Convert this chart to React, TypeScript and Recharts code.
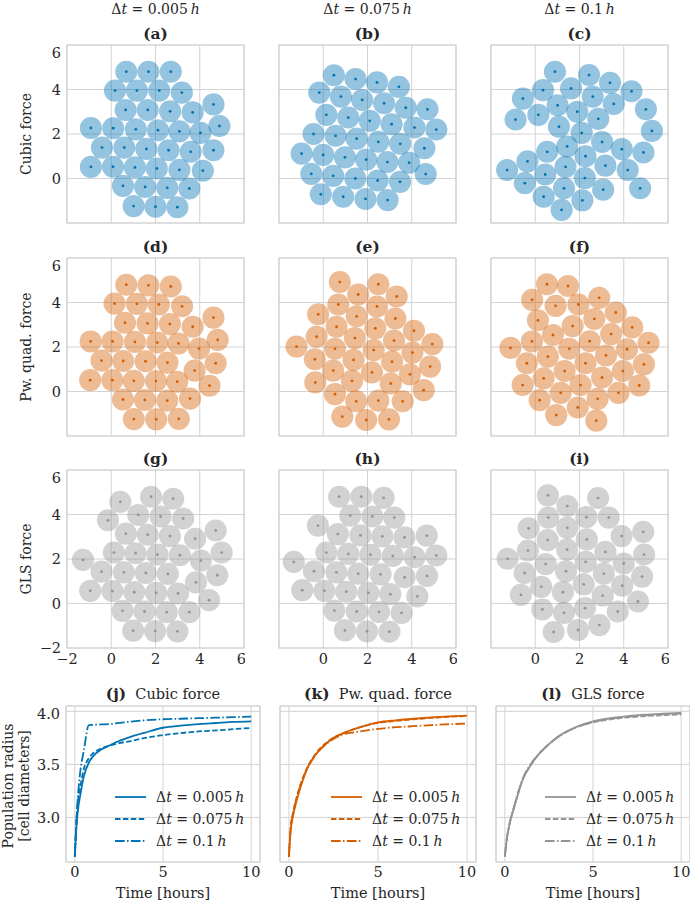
import React from "react";
import {
  ScatterChart,
  Scatter,
  LineChart,
  Line,
  XAxis,
  YAxis,
  CartesianGrid,
  ReferenceArea,
} from "recharts";

// ---- cell centres, [x, y] in cell diameters ----
const cubicDt005 = [
  [0.68, 4.8], [1.68, 4.8], [2.69, 4.8],
  [0.17, 3.95], [1.16, 3.95], [2.17, 3.95], [3.19, 3.86],
  [0.65, 3.08], [1.65, 3.08], [2.66, 3.02], [3.68, 2.97], [4.62, 3.33],
  [-0.92, 2.27], [0.09, 2.26], [1.11, 2.21], [2.11, 2.17], [3.08, 2.12], [4.03, 2.05], [4.89, 2.36],
  [-0.42, 1.39], [0.59, 1.39], [1.59, 1.33], [2.59, 1.27], [3.59, 1.2], [4.62, 1.27],
  [-0.92, 0.52], [0.08, 0.53], [1.07, 0.5], [2.06, 0.45], [3.08, 0.39], [4.14, 0.35],
  [0.53, -0.33], [1.53, -0.38], [2.53, -0.42], [3.53, -0.45],
  [1.01, -1.24], [2.0, -1.27], [2.99, -1.29],
];
const cubicDt075 = [
  [0.48, 4.64], [1.46, 4.47], [2.43, 4.32], [3.42, 4.12],
  [-0.18, 3.86], [0.8, 3.68], [1.76, 3.53], [2.75, 3.38], [3.73, 3.18], [4.71, 3.11],
  [0.14, 2.86], [1.13, 2.74], [2.1, 2.59], [3.09, 2.44], [4.12, 2.29], [5.11, 2.2],
  [-0.44, 2.0], [0.56, 1.92], [1.51, 1.79], [2.49, 1.65], [3.48, 1.56], [4.57, 1.36],
  [-0.98, 1.12], [0.0, 1.06], [0.98, 0.95], [1.94, 0.85], [2.9, 0.74], [3.88, 0.71],
  [-0.54, 0.21], [0.45, 0.12], [1.45, 0.0], [2.46, -0.09], [3.47, -0.15], [4.63, 0.2],
  [-0.11, -0.71], [0.9, -0.82], [1.91, -0.92], [2.91, -0.97],
];
const cubicDt1 = [
  [0.89, 4.8], [2.43, 4.65], [3.38, 4.3], [4.35, 3.92], [0.35, 3.97], [1.62, 4.05],
  [-0.56, 3.59], [1.01, 3.29], [2.6, 3.68], [3.55, 3.35], [5.0, 3.11],
  [-0.89, 2.65], [0.14, 2.86], [1.9, 3.0], [2.85, 2.68], [1.07, 2.33], [2.1, 2.05], [5.27, 2.14],
  [1.44, 1.44], [3.02, 1.64], [3.91, 1.32], [4.89, 1.17], [0.54, 1.2], [2.27, 1.0],
  [-0.35, 0.77], [1.37, 0.52], [3.17, 0.58], [4.18, 0.38], [-1.27, 0.38], [0.45, 0.18],
  [-0.47, -0.21], [1.3, -0.44], [2.24, 0.02], [3.07, -0.5], [4.74, -0.44],
  [0.38, -0.82], [2.13, -0.98], [1.19, -1.41],
];
const pwDt005 = [
  [0.68, 4.8], [1.68, 4.77], [2.69, 4.72],
  [0.15, 3.95], [1.16, 3.94], [2.15, 3.91], [3.2, 3.83], [4.62, 3.32],
  [0.62, 3.09], [1.64, 3.06], [2.65, 3.03], [3.68, 2.91], [4.81, 2.32],
  [-0.93, 2.25], [0.06, 2.25], [1.07, 2.23], [2.08, 2.2], [3.04, 2.16], [3.97, 1.93],
  [-0.44, 1.39], [0.54, 1.37], [1.55, 1.36], [2.54, 1.3], [3.77, 0.94], [4.72, 1.27],
  [-0.95, 0.51], [0.05, 0.51], [1.02, 0.48], [2.02, 0.47], [2.98, 0.44], [4.44, 0.26],
  [0.53, -0.36], [1.52, -0.38], [2.53, -0.41], [3.56, -0.32],
  [1.02, -1.24], [2.03, -1.25], [3.05, -1.23],
];
const pwDt075 = [
  [0.75, 4.92], [2.49, 4.82], [1.58, 4.36], [3.32, 4.27], [0.68, 3.91], [2.43, 3.82],
  [-0.23, 3.47], [1.51, 3.38], [3.26, 3.28], [0.6, 2.91], [2.35, 2.84], [4.1, 2.73],
  [-0.3, 2.46], [1.43, 2.4], [3.2, 2.29], [4.93, 2.13], [-1.21, 2.02], [0.53, 1.92],
  [2.28, 1.86], [4.03, 1.75], [-0.38, 1.45], [1.37, 1.42], [3.11, 1.34], [4.83, 1.12],
  [0.45, 0.94], [2.2, 0.86], [3.92, 0.77], [-0.36, 0.41], [1.3, 0.48], [3.05, 0.36],
  [4.54, 0.06], [0.53, -0.12], [1.49, -0.44], [2.49, -0.41], [3.59, -0.44],
  [0.86, -1.13], [1.94, -1.28], [2.97, -1.25],
];
const pwDt1 = [
  [0.53, 4.82], [1.48, 4.74], [-0.14, 4.12], [0.92, 3.85], [1.95, 3.91], [2.89, 4.21],
  [3.64, 3.55], [0.12, 3.2], [1.69, 2.94], [2.67, 3.26], [4.38, 2.88], [0.8, 2.54],
  [2.46, 2.26], [3.43, 2.58], [5.12, 2.19], [-1.12, 1.96], [-0.15, 2.25], [1.54, 1.92],
  [0.57, 1.57], [3.2, 1.62], [4.15, 1.9], [2.27, 1.27], [-0.38, 1.27], [1.33, 0.92],
  [3.96, 0.92], [4.91, 1.22], [0.38, 0.59], [3.02, 0.63], [-0.57, 0.29], [2.05, 0.29],
  [1.15, -0.06], [3.76, -0.06], [4.7, 0.27], [0.2, -0.39], [2.82, -0.33],
  [0.95, -1.06], [1.92, -0.72], [2.76, -1.31],
];
const glsDt005 = [
  [1.8, 4.8], [2.8, 4.71], [0.41, 4.57], [-0.15, 3.74], [1.22, 3.98], [2.23, 3.91],
  [3.25, 3.82], [4.72, 3.28], [0.66, 3.14], [1.65, 3.09], [2.65, 3.03], [3.79, 2.91],
  [4.99, 2.29], [-1.28, 1.96], [0.12, 2.29], [1.1, 2.26], [2.09, 2.2], [3.1, 2.17],
  [4.05, 1.93], [-0.44, 1.43], [0.57, 1.4], [1.56, 1.37], [2.56, 1.33], [3.83, 0.95],
  [4.79, 1.27], [-0.95, 0.57], [0.05, 0.56], [1.04, 0.51], [2.03, 0.48], [3.02, 0.45],
  [4.42, 0.15], [0.51, -0.33], [1.5, -0.36], [2.51, -0.39], [3.53, -0.39],
  [0.99, -1.22], [1.98, -1.24], [2.99, -1.25],
];
const glsDt075 = [
  [0.72, 4.8], [1.72, 4.8], [2.73, 4.75], [1.22, 3.95], [2.22, 3.91], [3.21, 3.86],
  [-0.24, 3.5], [0.66, 3.12], [1.68, 3.06], [2.67, 3.02], [3.67, 2.97], [4.68, 3.05],
  [0.14, 2.29], [1.13, 2.23], [2.13, 2.19], [3.14, 2.14], [4.13, 2.08], [5.11, 2.16],
  [-1.33, 1.87], [-0.42, 1.45], [0.59, 1.4], [1.58, 1.34], [2.59, 1.31], [3.68, 1.18],
  [4.69, 1.24], [-0.95, 0.6], [0.05, 0.57], [1.04, 0.53], [2.04, 0.48], [3.03, 0.42],
  [4.25, 0.32], [0.5, -0.32], [1.51, -0.36], [2.52, -0.38], [3.54, -0.42],
  [0.98, -1.21], [1.98, -1.25], [2.99, -1.27],
];
const glsDt1 = [
  [0.57, 4.86], [2.84, 4.74], [1.45, 4.38], [0.59, 3.86], [2.31, 3.88], [3.32, 3.86],
  [-0.3, 3.38], [1.45, 3.4], [0.56, 2.85], [2.33, 2.88], [3.9, 3.03], [4.88, 3.22],
  [-0.33, 2.38], [1.44, 2.42], [3.17, 2.32], [4.92, 2.2], [-1.25, 2.01], [0.47, 1.77],
  [2.28, 1.87], [4.0, 1.8], [-0.48, 1.37], [1.39, 1.45], [3.1, 1.34], [4.83, 1.21],
  [0.27, 0.75], [2.19, 0.86], [3.93, 0.8], [-0.65, 0.39], [1.25, 0.51], [3.05, 0.35],
  [4.64, 0.09], [0.32, -0.27], [1.3, -0.42], [2.25, -0.21], [3.73, -0.36],
  [0.83, -1.28], [1.93, -1.19], [2.9, -0.97],
];

// ---- population radius over time ----
const time = [0, 0.1, 0.2, 0.3, 0.5, 0.8, 1, 1.5, 2, 2.5, 3, 4, 5, 6, 7, 8, 9, 10];
const cubicR005 = [2.63, 2.93, 3.1, 3.2, 3.38, 3.52, 3.57, 3.64, 3.68, 3.72, 3.75, 3.8, 3.845, 3.865, 3.88, 3.89, 3.9, 3.905];
const cubicR075 = [2.63, 3.0, 3.18, 3.28, 3.45, 3.56, 3.6, 3.65, 3.68, 3.7, 3.715, 3.75, 3.775, 3.795, 3.81, 3.82, 3.832, 3.843];
const cubicR1 = [2.63, 3.0, 3.25, 3.42, 3.62, 3.87, 3.872, 3.876, 3.88, 3.89, 3.9, 3.915, 3.925, 3.93, 3.935, 3.94, 3.945, 3.95];
const pwR005 = [2.63, 2.88, 2.99, 3.07, 3.2, 3.36, 3.45, 3.59, 3.68, 3.75, 3.79, 3.85, 3.895, 3.915, 3.93, 3.942, 3.952, 3.96];
const pwR075 = [2.63, 2.91, 3.02, 3.1, 3.23, 3.38, 3.46, 3.6, 3.69, 3.75, 3.79, 3.85, 3.89, 3.91, 3.925, 3.938, 3.948, 3.955];
const pwR1 = [2.63, 2.9, 3.01, 3.09, 3.22, 3.37, 3.45, 3.59, 3.68, 3.74, 3.78, 3.81, 3.835, 3.85, 3.86, 3.87, 3.878, 3.885];
const glsR005 = [2.63, 2.78, 2.88, 2.96, 3.08, 3.25, 3.35, 3.5, 3.61, 3.69, 3.76, 3.85, 3.905, 3.935, 3.955, 3.968, 3.977, 3.985];
const glsR075 = [2.63, 2.78, 2.88, 2.96, 3.08, 3.25, 3.35, 3.5, 3.61, 3.69, 3.755, 3.845, 3.895, 3.925, 3.943, 3.955, 3.963, 3.97];
const glsR1 = [2.63, 2.79, 2.89, 2.97, 3.09, 3.26, 3.36, 3.51, 3.61, 3.69, 3.755, 3.845, 3.9, 3.93, 3.95, 3.962, 3.971, 3.978];

const dtLabels = ["0.005", "0.075", "0.1"];
const forceNames = ["Cubic force", "Pw. quad. force", "GLS force"];
const panelLetters = ["a", "b", "c", "d", "e", "f", "g", "h", "i"];
const lineLetters = ["j", "k", "l"];
const cellTicks = [-2, 0, 2, 4, 6];
const timeTicks = [0, 5, 10];
const radiusTicks = [3.0, 3.5, 4.0];

const COLORS = ["#0173B2", "#D55E00", "#949494"];
const FONT = "'DejaVu Serif', serif";
const TXT = "#262626";
const GRID = "#d3d3d3";

const cellSets = [
  [cubicDt005, cubicDt075, cubicDt1],
  [pwDt005, pwDt075, pwDt1],
  [glsDt005, glsDt075, glsDt1],
];
const radiusSets = [
  [cubicR005, cubicR075, cubicR1],
  [pwR005, pwR075, pwR1],
  [glsR005, glsR075, glsR1],
];

// layout
const COL_LEFT = [67, 279, 491];
const ROW_TOP = [45, 258, 470];
const PW = 177;
const PH = 178;
const CELL_R = (PW / 8) * 0.5;
const LINE_LEFT = [66, 280, 496];
const LINE_W = [194, 196, 194];
const LINE_TOP = 706;
const LINE_H = 156;
const DASHES = [undefined, "5.5 2.4", "9.6 2.4 1.5 2.4"];

const tickStyle = { fontSize: 14.5, fontFamily: FONT, fill: TXT };
const minus = (v: number) => String(v).replace("-", "\u2212");

function DtText({ dt }: { dt: string }) {
  return (
    <span>
      Δ<i>t</i> = {dt}&thinsp;<i>h</i>
    </span>
  );
}

function CellPanel({ row, col }: { row: number; col: number }) {
  const color = COLORS[row];
  const showY = col === 0;
  const showX = row === 2;
  const yw = showY ? 40 : 0;
  const xh = showX ? 24 : 0;
  const data = cellSets[row][col].map(([x, y]) => ({ x, y }));
  const shape = (p: any) => {
    const cx = p.cx ?? p.x + (p.width || 0) / 2;
    const cy = p.cy ?? p.y + (p.height || 0) / 2;
    return (
      <g>
        <circle cx={cx} cy={cy} r={CELL_R} fill={color} fillOpacity={0.42} />
        <circle cx={cx} cy={cy} r={1.4} fill={color} />
      </g>
    );
  };
  return (
    <div style={{ position: "absolute", left: COL_LEFT[col] - yw - 1, top: ROW_TOP[row] - 1 }}>
      <ScatterChart
        width={PW + yw + 2}
        height={PH + xh + 2}
        margin={{ top: 1, right: 1, bottom: 1, left: 1 }}
      >
        <CartesianGrid stroke={GRID} strokeWidth={1} />
        <ReferenceArea x1={-2} x2={6} y1={-2} y2={6} fill="none" stroke={GRID} strokeWidth={1.2} />
        <XAxis
          type="number"
          dataKey="x"
          domain={[-2, 6]}
          ticks={cellTicks}
          hide={!showX}
          height={xh}
          tick={tickStyle}
          tickFormatter={minus}
          axisLine={false}
          tickLine={false}
          tickSize={4}
          tickMargin={2}
        />
        <YAxis
          type="number"
          dataKey="y"
          domain={[-2, 6]}
          ticks={cellTicks}
          hide={!showY}
          width={yw}
          tick={tickStyle}
          tickFormatter={minus}
          axisLine={false}
          tickLine={false}
          tickSize={4}
          tickMargin={2}
        />
        <Scatter data={data} shape={shape} isAnimationActive={false} />
      </ScatterChart>
    </div>
  );
}

function RadiusPanel({ idx }: { idx: number }) {
  const color = COLORS[idx];
  const showY = idx === 0;
  const yw = showY ? 40 : 0;
  const xh = 24;
  const [s1, s2, s3] = radiusSets[idx];
  const data = time.map((t, i) => ({ t, a: s1[i], b: s2[i], c: s3[i] }));
  return (
    <div style={{ position: "absolute", left: LINE_LEFT[idx] - yw - 1, top: LINE_TOP - 1 }}>
      <LineChart
        width={LINE_W[idx] + yw + 2}
        height={LINE_H + xh + 2}
        data={data}
        margin={{ top: 1, right: 1, bottom: 1, left: 1 }}
      >
        <CartesianGrid stroke={GRID} strokeWidth={1} />
        <ReferenceArea x1={-0.5} x2={10.5} y1={2.58} y2={4.05} fill="none" stroke={GRID} strokeWidth={1.2} />
        <XAxis
          type="number"
          dataKey="t"
          domain={[-0.5, 10.5]}
          ticks={timeTicks}
          height={xh}
          tick={tickStyle}
          axisLine={false}
          tickLine={false}
          tickSize={4}
          tickMargin={1}
        />
        <YAxis
          type="number"
          domain={[2.58, 4.05]}
          ticks={radiusTicks}
          hide={!showY}
          width={yw}
          tick={tickStyle}
          tickFormatter={(v: number) => v.toFixed(1)}
          axisLine={false}
          tickLine={false}
          tickSize={4}
          tickMargin={2}
        />
        {["a", "b", "c"].map((k, i) => (
          <Line
            key={k}
            dataKey={k}
            stroke={color}
            strokeWidth={1.8}
            strokeDasharray={DASHES[i]}
            dot={false}
            type="monotone"
            isAnimationActive={false}
          />
        ))}
      </LineChart>
    </div>
  );
}

const textBase: React.CSSProperties = {
  position: "absolute",
  fontFamily: FONT,
  fontSize: 14,
  color: TXT,
  whiteSpace: "nowrap",
  lineHeight: 1,
};

function Label({ x, y, rotate, children, style }: any) {
  return (
    <div
      style={{
        ...textBase,
        left: x,
        top: y,
        transform: `translate(-50%, -50%)${rotate ? " rotate(-90deg)" : ""}`,
        ...style,
      }}
    >
      {children}
    </div>
  );
}

function Legend({ idx }: { idx: number }) {
  const right = LINE_LEFT[idx] + LINE_W[idx];
  const rows = [797, 819, 841];
  return (
    <>
      {rows.map((y, i) => (
        <React.Fragment key={i}>
          <svg
            style={{ position: "absolute", left: right - 146, top: y - 5 }}
            width={33}
            height={10}
          >
            <line x1={1} y1={5} x2={32} y2={5} stroke={COLORS[idx]} strokeWidth={1.8} strokeDasharray={DASHES[i]} />
          </svg>
          <div style={{ ...textBase, left: right - 104, top: y - 7 }}>
            <DtText dt={dtLabels[i]} />
          </div>
        </React.Fragment>
      ))}
    </>
  );
}

export default function App() {
  return (
    <div
      style={{
        position: "absolute",
        left: 0,
        top: 0,
        width: 690,
        height: 901,
        background: "#fff",
        overflow: "hidden",
      }}
    >
      {dtLabels.map((dt, c) => (
        <Label key={dt} x={COL_LEFT[c] + PW / 2} y={9}>
          <DtText dt={dt} />
        </Label>
      ))}
      {forceNames.map((name, r) => (
        <Label key={name} x={26} y={ROW_TOP[r] + PH / 2} rotate>
          {name}
        </Label>
      ))}
      {[0, 1, 2].map((r) =>
        [0, 1, 2].map((c) => (
          <React.Fragment key={`${r}-${c}`}>
            <Label
              x={COL_LEFT[c] + PW / 2}
              y={ROW_TOP[r] - 11}
              style={{ fontWeight: "bold", fontSize: 15.5 }}
            >
              ({panelLetters[r * 3 + c]})
            </Label>
            <CellPanel row={r} col={c} />
          </React.Fragment>
        ))
      )}
      {[0, 1, 2].map((i) => (
        <React.Fragment key={i}>
          <Label x={LINE_LEFT[i] + LINE_W[i] / 2} y={694} style={{ fontSize: 14.5 }}>
            <b style={{ fontSize: 15.5 }}>({lineLetters[i]})</b>&nbsp; {forceNames[i]}
          </Label>
          <RadiusPanel idx={i} />
          <Legend idx={i} />
          <Label x={LINE_LEFT[i] + LINE_W[i] / 2} y={893} style={{ fontSize: 14.5 }}>
            Time [hours]
          </Label>
        </React.Fragment>
      ))}
      <Label x={8} y={786} rotate>
        Population radius
      </Label>
      <Label x={24} y={786} rotate>
        [cell diameters]
      </Label>
    </div>
  );
}
